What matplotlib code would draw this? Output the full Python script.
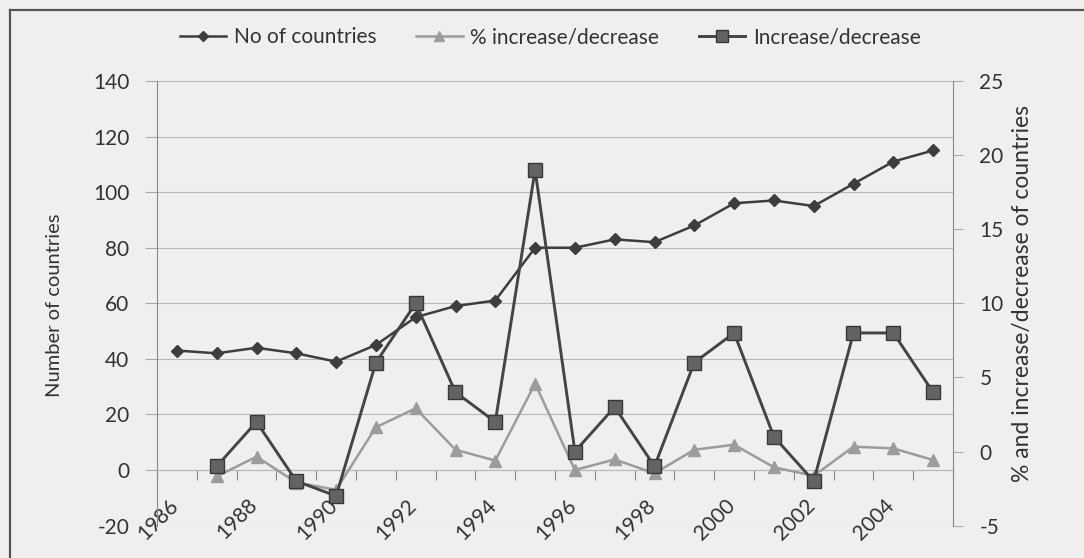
import numpy as np
import matplotlib
matplotlib.use('Agg')
import matplotlib.pyplot as plt
from matplotlib.lines import Line2D
from matplotlib.transforms import ScaledTranslation

plt.rcParams['font.family'] = ['Lato', 'DejaVu Sans']
plt.rcParams['axes.unicode_minus'] = False

years = ['1986', '1987', '1988', '1989', '1990', '1991', '1992', '1993', '1994', '1995',
         '1996', '1997', '1998', '1999', '2000', '2001', '2002', '2003', '2004', '2005']
countries = [43, 42, 44, 42, 39, 45, 55, 59, 61, 80, 80, 83, 82, 88, 96, 97, 95, 103, 111, 115]
pct_change = [np.nan, -2.3, 4.8, -4.5, -7.1, 15.4, 22.2, 7.3, 3.4, 31.1,
              0.0, 3.8, -1.2, 7.3, 9.1, 1.0, -2.1, 8.4, 7.8, 3.6]
abs_change = [np.nan, -1, 2, -2, -3, 6, 10, 4, 2, 19, 0, 3, -1, 6, 8, 1, -2, 8, 8, 4]

bg = '#efefef'
txt = '#333333'

fig = plt.figure(figsize=(10.84, 5.58), dpi=100, facecolor=bg)
ax = fig.add_axes([157 / 1084, 1 - 525.6 / 558, 796 / 1084, 444.6 / 558])
ax.set_facecolor('none')
ax2 = ax.twinx()

x = np.arange(len(years))

l1, = ax.plot(x, countries, color='#3d3d3d', lw=1.8, marker='D', ms=6.5,
              label='No of countries', zorder=3)
l2, = ax.plot(x, pct_change, color='#9c9c9c', lw=1.8, marker='^', ms=8.5,
              label='% increase/decrease', zorder=3)
l3, = ax2.plot(x, abs_change, color='#444444', lw=2.1, marker='s', ms=10,
               markerfacecolor='#636363', markeredgecolor='#383838',
               label='Increase/decrease', zorder=3)

ax.set_xlim(-0.5, len(years) - 0.5)
ax.set_ylim(-20, 140)
ax.set_yticks(range(-20, 141, 20))
ax2.set_ylim(-5, 25)
ax2.set_yticks(range(-5, 26, 5))

ax.yaxis.grid(True, color='#b8b8b8', lw=0.8)
ax.set_axisbelow(True)

# category axis crosses at zero
ax.spines['bottom'].set_position(('data', 0))
for s in ['top', 'right']:
    ax.spines[s].set_visible(False)
for s in ['top', 'bottom', 'left']:
    ax2.spines[s].set_visible(False)
ax.spines['bottom'].set_color('#b8b8b8')
ax.spines['left'].set_color('#888888')
ax2.spines['right'].set_color('#888888')

ax.set_xticks(np.arange(-0.5, len(years), 1), minor=False)
ax.set_xticklabels([])
ax.set_xticks(x[::2], minor=True)
ax.set_xticklabels(years[::2], minor=True, rotation=45, ha='right', va='top',
                   fontsize=15, color=txt)
ax.tick_params(axis='x', which='major', length=7, color='#888888', direction='out')
ax.tick_params(axis='x', which='minor', length=0, pad=18)
ax.tick_params(axis='y', length=9, color='#aaaaaa', labelsize=15, labelcolor=txt, pad=11)
ax2.tick_params(axis='y', length=7, color='#aaaaaa', labelsize=15, labelcolor=txt, pad=12)

# year labels sit on a clear patch over the gridlines, nudged right a little
ax.xaxis.set_zorder(0.6)
shift = ScaledTranslation(5 / 100, 0, fig.dpi_scale_trans)
for lab in ax.get_xticklabels(minor=True):
    lab.set_transform(lab.get_transform() + shift)
    lab.set_bbox(dict(facecolor=bg, edgecolor='none', pad=0.5))

fig.text(55 / 1084, 1 - 305 / 558, 'Number of countries', rotation=90, ha='center',
         va='center', fontsize=14.5, color=txt)
fig.text(1023 / 1084, 1 - 293 / 558, '% and increase/decrease of countries', rotation=90,
         ha='center', va='center', fontsize=16.5, color=txt)

fig.legend(handles=[l1, l2, l3], loc='center', bbox_to_anchor=(550 / 1084, 1 - 37 / 558),
           ncol=3, frameon=False, fontsize=15, handlelength=2.25, handletextpad=0.35,
           columnspacing=1.9, labelcolor=txt, markerscale=0.8)

# outer frame of the scanned figure
fig.add_artist(Line2D([10 / 1084, 1.0], [1 - 10 / 558] * 2, color='#555555', lw=1.6))
fig.add_artist(Line2D([10 / 1084] * 2, [0.0, 1 - 10 / 558], color='#555555', lw=1.6))

fig.savefig('out.png', dpi=100, facecolor=bg)
